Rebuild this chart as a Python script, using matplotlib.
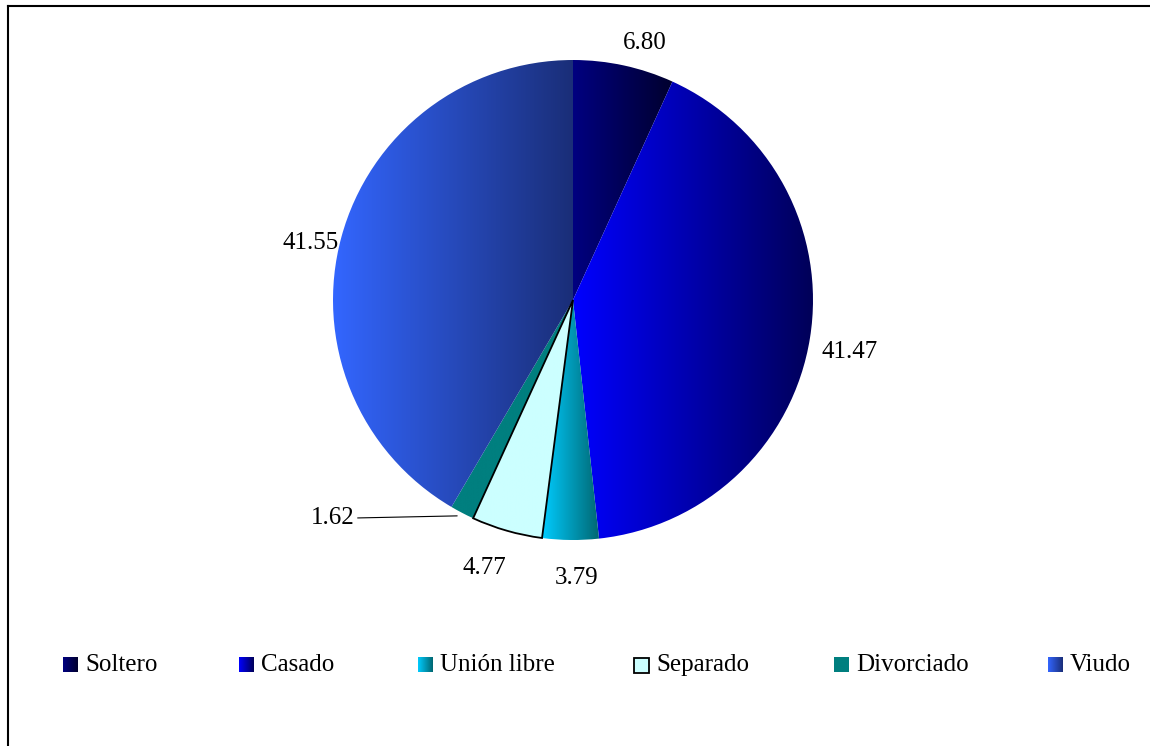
import matplotlib.pyplot as plt
import numpy as np
from matplotlib.colors import LinearSegmentedColormap
from matplotlib.lines import Line2D

plt.rcParams['font.family'] = ['Liberation Serif', 'DejaVu Serif']

categorias = ["Soltero", "Casado", "Unión libre", "Separado", "Divorciado", "Viudo"]
valores = [6.80, 41.47, 3.79, 4.77, 1.62, 41.55]
etiquetas = ["6.80", "41.47", "3.79", "4.77", "1.62", "41.55"]
# color izquierdo / derecho del degradado
colores = [("#000080", "#00002e"),
           ("#0000ff", "#000058"),
           ("#00ccff", "#006670"),
           ("#ccffff", "#ccffff"),
           ("#007f7f", "#007f7f"),
           ("#3366ff", "#1a2e78")]

W, H = 1150, 746
fig = plt.figure(figsize=(W / 100, H / 100), dpi=100)
ax = fig.add_axes([0, 0, 1, 1])
ax.set_xlim(0, W)
ax.set_ylim(0, H)
ax.set_aspect('equal')
ax.axis('off')

cx, cy, r = 573, H - 300, 240

wedges, _ = ax.pie(valores, center=(cx, cy), radius=r, startangle=90,
                   counterclock=False, colors=["none"] * len(valores),
                   wedgeprops=dict(linewidth=0))
ax.set_xlim(0, W)
ax.set_ylim(0, H)


def gradiente(c1, c2):
    return LinearSegmentedColormap.from_list("g", [c1, c2])


grad = np.linspace(0, 1, 256).reshape(1, -1)
for w, (c1, c2), cat in zip(wedges, colores, categorias):
    t = np.radians(np.linspace(w.theta1, w.theta2, 100))
    xs = np.concatenate([[cx], cx + r * np.cos(t)])
    ys = np.concatenate([[cy], cy + r * np.sin(t)])
    im = ax.imshow(grad, cmap=gradiente(c1, c2), aspect='auto',
                   extent=[xs.min(), xs.max(), ys.min(), ys.max()], zorder=1)
    im.set_clip_path(w)
    if cat == "Separado":
        w.set_edgecolor("black")
        w.set_linewidth(1.3)
        w.set_zorder(3)

# etiquetas de datos (desplazamiento fino en pixeles)
ajuste = [(14, -8), (2, -8), (6, 0), (-12, 0), (0, 0), (-1, -14)]
fracs = np.cumsum([0] + valores)
for i, lab in enumerate(etiquetas):
    ang = np.radians(90 - (fracs[i] + valores[i] / 2) * 3.6)
    if categorias[i] == "Divorciado":
        px, py = cx + r * np.cos(ang), cy + r * np.sin(ang)
        ax.annotate(lab, xy=(px - 5, py - 3), xytext=(333, H - 518),
                    ha='center', va='center', fontsize=18,
                    arrowprops=dict(arrowstyle='-', color='black', lw=0.8,
                                    shrinkA=0, shrinkB=0,
                                    relpos=(1, 0.5)))
        continue
    d = 1.13 if categorias[i] in ("Soltero", "Viudo") else 1.16
    ax.text(cx + d * r * np.cos(ang) + ajuste[i][0],
            cy + d * r * np.sin(ang) + ajuste[i][1], lab,
            ha='center', va='center', fontsize=18)

# leyenda
xcaja = [63, 239, 418, 634, 834, 1048]
ly = H - 665
s = 15
for x0, cat, (c1, c2) in zip(xcaja, categorias, colores):
    im = ax.imshow(grad, cmap=gradiente(c1, c2), aspect='auto',
                   extent=[x0, x0 + s, ly - s / 2, ly + s / 2], zorder=2)
    if cat == "Separado":
        ax.add_patch(plt.Rectangle((x0, ly - s / 2), s, s, fill=False,
                                   edgecolor='black', lw=1.3, zorder=3))
    ax.text(x0 + s + 7, ly, cat, ha='left', va='center', fontsize=18)

# marco
fig.add_artist(Line2D([7.5 / W, 1], [1 - 5.5 / H, 1 - 5.5 / H],
                      color='black', lw=1.5, transform=fig.transFigure))
fig.add_artist(Line2D([7.5 / W, 7.5 / W], [0, 1 - 5.5 / H],
                      color='black', lw=1.5, transform=fig.transFigure))

fig.savefig("out.png", dpi=100)
